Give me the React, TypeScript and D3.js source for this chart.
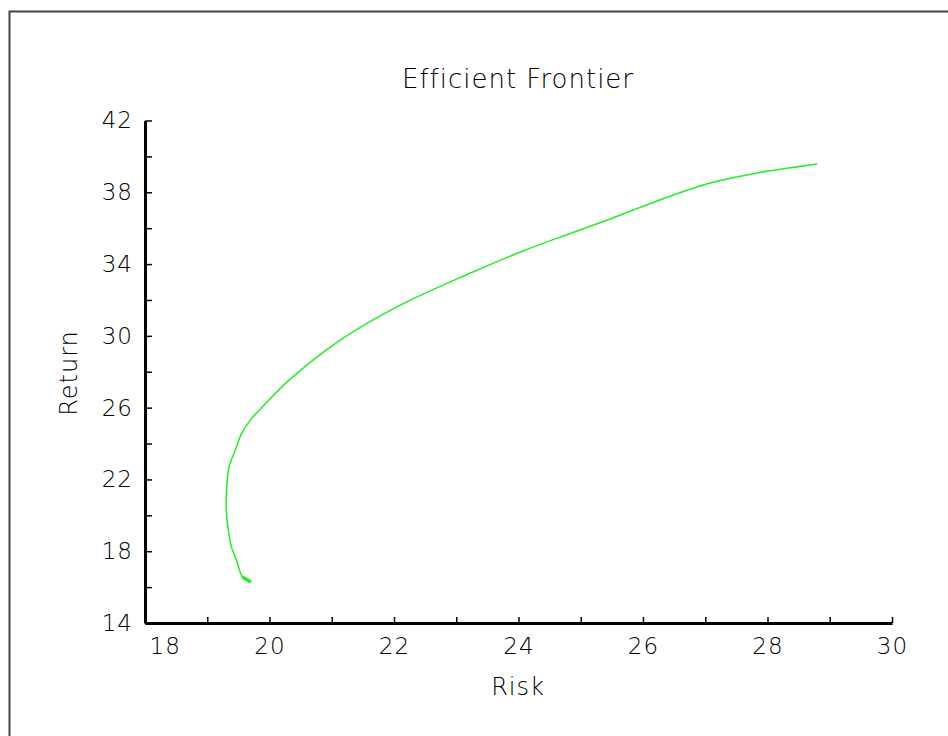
import React, { useRef, useEffect } from 'react';
import * as d3 from 'd3';

// frontier points (risk, return), ordered by return
const riskValues = [
  19.70, 19.57, 19.47, 19.39, 19.34, 19.31, 19.31, 19.35, 19.45, 19.55,
  19.69, 19.96, 20.31, 21.13, 22.10, 23.22, 24.03, 24.67, 25.47, 25.84,
  26.49, 27.08, 27.84, 28.80
];
const returnValues = [
  16.28, 16.55, 17.49, 18.23, 19.16, 20.09, 21.39, 22.69, 23.62, 24.55,
  25.29, 26.31, 27.52, 29.75, 31.71, 33.49, 34.67, 35.50, 36.51, 37.01,
  37.85, 38.52, 39.08, 39.58
];
const xTicks = [18, 19, 20, 21, 22, 23, 24, 25, 26, 27, 28, 29, 30];
const yTicks = [14, 16, 18, 20, 22, 24, 26, 28, 30, 32, 34, 36, 38, 40, 42];

const width = 948;
const height = 736;
const font = '"DejaVu Sans", sans-serif';

export default function App() {
  const ref = useRef<SVGSVGElement>(null);

  useEffect(() => {
    const svg = d3.select(ref.current);
    svg.selectAll("*").remove();

    const margin = { top: 120.5, right: 56, bottom: 113, left: 145 };

    // outer frame
    svg.append("path")
      .attr("d", `M9.5,${height + 5} V11.5 H${width + 5}`)
      .attr("fill", "none")
      .attr("stroke", "#444")
      .attr("stroke-width", 2);

    const x = d3.scaleLinear().domain([18, 30]).range([margin.left, width - margin.right]);
    const y = d3.scaleLinear().domain([14, 42]).range([height - margin.bottom, margin.top]);

    // Y axis
    const gy = svg.append("g")
      .attr("transform", `translate(${margin.left},0)`)
      .call(d3.axisLeft(y)
        .tickValues(yTicks)
        .tickSizeInner(-7)
        .tickSizeOuter(0)
        .tickPadding(12)
        .tickFormat(d => (+d % 4 === 2 ? String(d) : "")));
    gy.select(".domain").attr("stroke-width", 3);
    gy.selectAll(".tick line").attr("stroke-width", 1.5);
    gy.selectAll("text")
      .attr("font-family", font)
      .attr("font-weight", 200)
      .attr("font-size", 23)
      .attr("letter-spacing", 1)
      .attr("fill", "#000");

    // X axis
    const gx = svg.append("g")
      .attr("transform", `translate(0,${height - margin.bottom})`)
      .call(d3.axisBottom(x)
        .tickValues(xTicks)
        .tickSizeInner(-6)
        .tickSizeOuter(0)
        .tickPadding(15)
        .tickFormat(d => (+d % 2 === 0 ? String(d) : "")));
    gx.select(".domain").attr("stroke-width", 3);
    gx.selectAll(".tick line").attr("stroke-width", 1.5);
    gx.selectAll("text")
      .attr("font-family", font)
      .attr("font-weight", 200)
      .attr("font-size", 23)
      .attr("letter-spacing", 1)
      .attr("fill", "#000");
    // first label sits off the y axis
    gx.selectAll<SVGTextElement, number>("text")
      .filter(d => d === 18)
      .attr("text-anchor", "start")
      .attr("x", 4);

    // curve
    const pts: [number, number][] = riskValues.map((r, i) => [r, returnValues[i]]);
    const line = d3.line<[number, number]>()
      .x(d => x(d[0]))
      .y(d => y(d[1]))
      .curve(d3.curveCatmullRom.alpha(0.5));
    svg.append("path")
      .datum(pts)
      .attr("d", line)
      .attr("fill", "none")
      .attr("stroke", "#22ee22")
      .attr("stroke-width", 1.5);
    // thick blob at the low end
    svg.append("path")
      .datum(pts.slice(0, 2))
      .attr("d", line)
      .attr("fill", "none")
      .attr("stroke", "#22ee22")
      .attr("stroke-width", 3.5);

    // title and axis labels
    const label = (t: string, fs: number) =>
      svg.append("text")
        .attr("text-anchor", "middle")
        .attr("font-family", font)
        .attr("font-weight", 200)
        .attr("font-size", fs)
        .attr("letter-spacing", 1)
        .attr("fill", "#000")
        .text(t);

    label("Efficient Frontier", 26).attr("x", 518).attr("y", 88);
    label("Risk", 24).attr("x", 518).attr("y", 695);
    label("Return", 24).attr("transform", "translate(77,373) rotate(-90)");
  }, []);

  return (
    <svg
      ref={ref}
      width={width}
      height={height}
      style={{ position: "absolute", left: 0, top: 0, background: "white" }}
    />
  );
}
